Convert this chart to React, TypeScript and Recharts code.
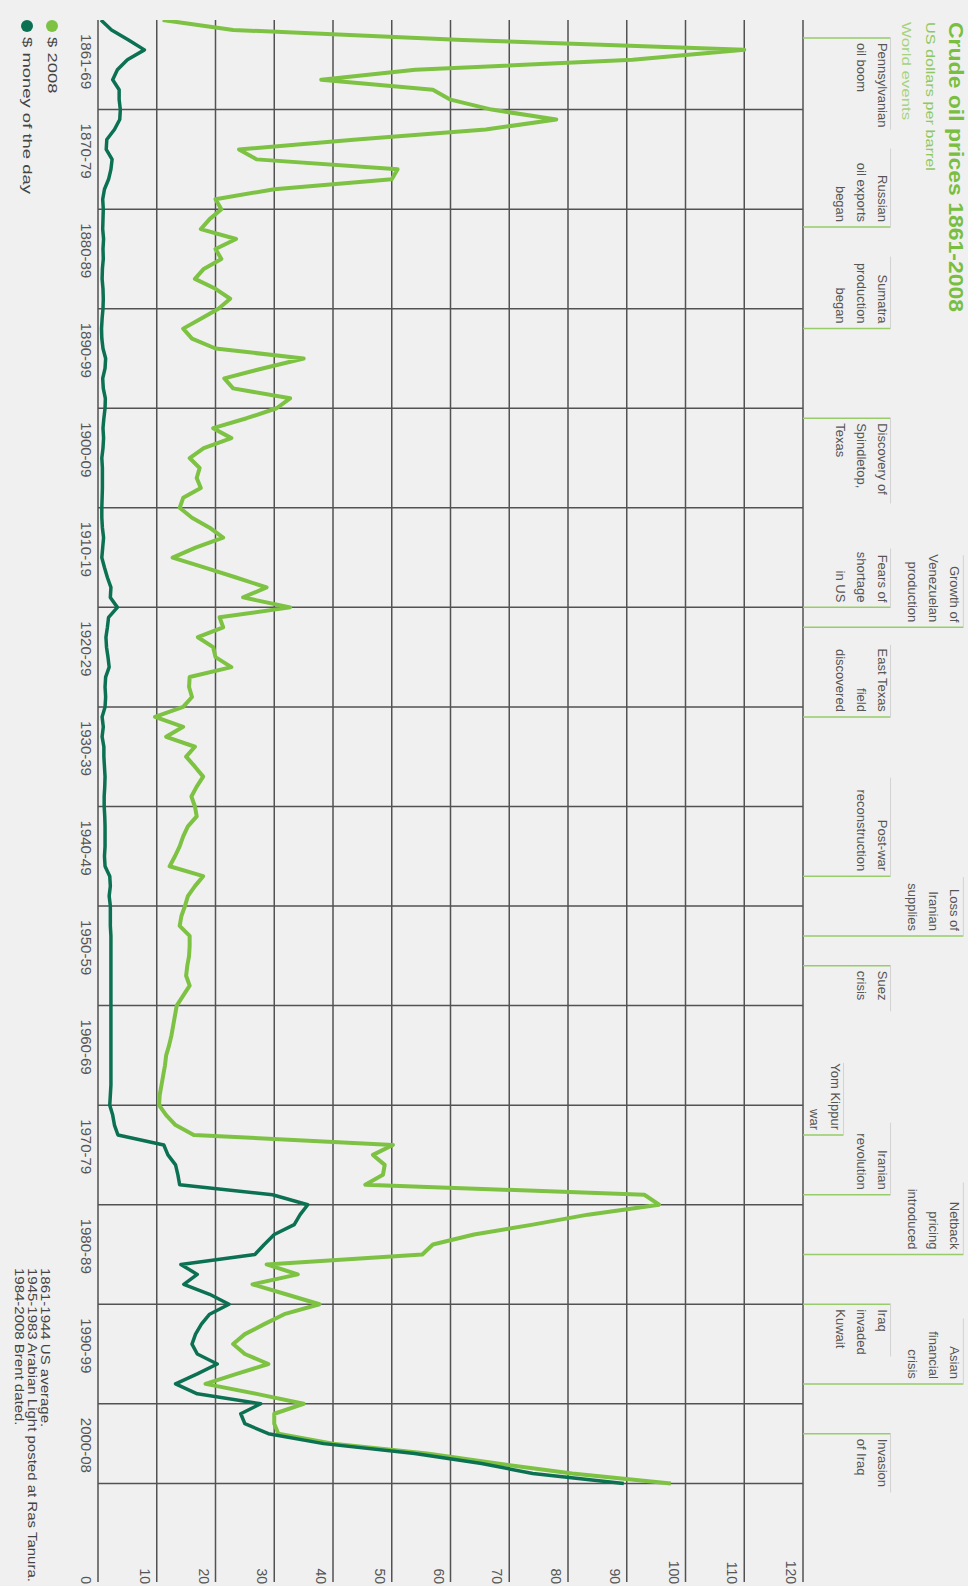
import React from "react";
import { LineChart, Line, XAxis, YAxis, CartesianGrid, ReferenceLine } from "recharts";

const FIRST_YEAR = 1861;

// US dollars per barrel, in 2008 dollars (1861..2008)
const usd2008: number[] = [
  11, 23, 62, 110, 91, 54, 38, 57, 60,
  67, 78, 66, 44, 24, 27, 51, 50, 30, 20,
  21, 19, 17.5, 23.5, 20, 21, 18, 16.5, 20, 22.5,
  20.5, 17.5, 14.5, 16, 20, 35, 28, 21.5, 23, 32.7,
  30.4, 25.3, 19.6, 22.7, 18, 15.6, 17.3, 16.8, 17.5, 14.5,
  13.9, 16, 19, 21.3, 16.6, 12.7, 18.2, 23.5, 28.7, 24.7,
  32.7, 20.7, 21.3, 17, 19.6, 20, 22.7, 15.6, 15.5, 16,
  14.5, 9.7, 14.5, 11.6, 16.5, 15, 16.5, 17.9, 16.8, 15.9,
  16.5, 16.8, 15.3, 14.5, 13.9, 13.1, 12.2, 17.9, 16.5, 15.3,
  14.8, 14.2, 13.9, 15.6, 15.6, 15.5, 15.2, 15, 15.6, 14.5,
  13.4, 13.1, 12.8, 12.5, 12.1, 11.6, 11.4, 11.1, 10.8, 10.5,
  10.4, 11.6, 13.2, 16.3, 50.2, 46.8, 48.8, 48.5, 45.5, 93,
  95.5, 83.4, 74, 64, 57, 55.2, 28.7, 34, 26.3, 32,
  37.7, 31.7, 28.3, 25, 23, 25, 29, 23.6, 18.3, 27,
  35, 30, 30, 30.7, 40, 56, 68, 80.7, 97.5,
];

// US dollars per barrel, money of the day (1861..2008)
const usdMoneyOfDay: number[] = [
  0.5, 2.3, 5.2, 7.9, 5, 3.3, 2.5, 3.6, 3.6,
  3.8, 3.7, 2.8, 1.5, 1.4, 2.4, 2.2, 1.8, 1.1, 0.8,
  0.9, 0.85, 0.8, 0.95, 0.85, 0.9, 0.75, 0.7, 0.85, 0.9,
  0.85, 0.7, 0.6, 0.65, 0.85, 1.3, 1.2, 0.8, 0.9, 1.25,
  1.2, 1, 0.85, 0.95, 0.85, 0.65, 0.75, 0.75, 0.75, 0.7,
  0.65, 0.65, 0.75, 0.95, 0.8, 0.65, 1.1, 1.6, 2.2, 2.1,
  3.3, 1.8, 1.6, 1.35, 1.45, 1.7, 1.9, 1.3, 1.2, 1.3,
  1.2, 0.7, 0.9, 0.7, 1, 1, 1.1, 1.2, 1.15, 1.05,
  1.05, 1.15, 1.2, 1.2, 1.2, 1.1, 1.2, 2, 2.1, 1.9,
  2.1, 2.1, 2.1, 2.2, 2.2, 2.2, 2.2, 2.2, 2.2, 2.2,
  2.2, 2.2, 2.2, 2.2, 2.2, 2.2, 2.2, 2.2, 2.2, 2.1,
  2, 2.5, 2.8, 3.4, 11.2, 11.9, 13.2, 13.6, 13.9, 29.7,
  35.7, 34.4, 33.4, 30, 28.3, 26.7, 14.1, 16.9, 14.6, 19,
  22.3, 19, 17.6, 16.6, 16, 16.9, 20.3, 16.9, 13.2, 16.9,
  27.7, 24.3, 25, 29, 38.4, 53.9, 65.3, 74, 89.5,
];

const decadeStarts = [1861, 1870, 1880, 1890, 1900, 1910, 1920, 1930, 1940, 1950, 1960, 1970, 1980, 1990, 2000];
const decadeLabels = ["1861-69", "1870-79", "1880-89", "1890-99", "1900-09", "1910-19", "1920-29", "1930-39", "1940-49", "1950-59", "1960-69", "1970-79", "1980-89", "1990-99", "2000-08"];
const decadeLines = [1870, 1880, 1890, 1900, 1910, 1920, 1930, 1940, 1950, 1960, 1970, 1980, 1990, 2000, 2008];
const valueTicks = [0, 10, 20, 30, 40, 50, 60, 70, 80, 90, 100, 110, 120];

const eventYears = [1862.8, 1881.8, 1892, 1901, 1920, 1922, 1931, 1947, 1953, 1956, 1973, 1979, 1985, 1990, 1998, 2003];
const eventTexts: string[][] = [
  ["Pennsylvanian", "oil boom"],
  ["Russian", "oil exports", "began"],
  ["Sumatra", "production", "began"],
  ["Discovery of", "Spindletop,", "Texas"],
  ["Fears of", "shortage", "in US"],
  ["Growth of", "Venezuelan", "production"],
  ["East Texas", "field", "discovered"],
  ["Post-war", "reconstruction"],
  ["Loss of", "Iranian", "supplies"],
  ["Suez", "crisis"],
  ["Yom Kippur", "war"],
  ["Iranian", "revolution"],
  ["Netback", "pricing", "introduced"],
  ["Iraq", "invaded", "Kuwait"],
  ["Asian", "financial", "crisis"],
  ["Invasion", "of Iraq"],
];
const eventLevels = [134.9, 134.9, 134.9, 134.9, 134.9, 147.3, 134.9, 134.9, 147.3, 134.9, 126.9, 134.9, 147.3, 134.9, 147.3, 134.9];
const eventAlign = ["after", "before", "before", "after", "before", "before", "before", "before", "before", "after", "before", "before", "before", "after", "before", "after"];

const footnotes = ["1861-1944 US average.", "1945-1983 Arabian Light posted at Ras Tanura.", "1984-2008 Brent dated."];

const LIGHT = "#7dc243";
const DARK = "#0c7152";
const GRID = "#525252";
const FONT = "'Liberation Sans', Arial, Helvetica, sans-serif";

const table = usd2008.map((v, i) => ({ year: FIRST_YEAR + i, real: v, nominal: usdMoneyOfDay[i] }));

const DecadeTick = (props: any) => {
  const { x, y, payload } = props;
  const i = decadeStarts.indexOf(payload.value);
  return (
    <text x={x + 14} y={y + 9} textAnchor="start" fontSize={15} fill="#555" fontFamily={FONT}>
      {decadeLabels[i]}
    </text>
  );
};

const ValueTick = (props: any) => {
  const { x, y, payload } = props;
  return (
    <text x={x - 6} y={y + 17} textAnchor="end" fontSize={14} fill="#555" fontFamily={FONT}>
      {payload.value}
    </text>
  );
};

const makeEventLabel = (i: number) => (props: any) => {
  const vb = props.viewBox || {};
  const lx = vb.x;
  const top = vb.y;
  const after = eventAlign[i] === "after";
  const tx = after ? lx + 5 : lx - 5;
  const longest = Math.max(...eventTexts[i].map((t) => t.length));
  const w = longest * 6.6 + 6;
  return (
    <g>
      <line x1={lx} y1={top} x2={after ? lx + w : lx - w} y2={top} stroke="#d2d2d2" strokeWidth={1} />
      {eventTexts[i].map((t, j) => (
        <text
          key={j}
          x={tx}
          y={top + 13 + 21 * j}
          textAnchor={after ? "start" : "end"}
          fontSize={13}
          fill="#555"
          fontFamily={FONT}
        >
          {t}
        </text>
      ))}
    </g>
  );
};

export default function App() {
  return (
    <div
      style={{
        position: "absolute",
        left: 0,
        top: 0,
        width: 968,
        height: 1586,
        overflow: "hidden",
        background: "#f0f0f0",
        fontFamily: FONT,
      }}
    >
      <div
        style={{
          position: "absolute",
          left: 0,
          top: 0,
          width: 1586,
          height: 968,
          transformOrigin: "0 0",
          transform: "translate(968px, 0px) rotate(90deg)",
        }}
      >
        <LineChart width={1586} height={968} data={table} margin={{ top: 165, right: 3, bottom: 97, left: 20 }}>
          <CartesianGrid horizontal={true} vertical={false} stroke={GRID} strokeWidth={1.5} />
          <XAxis
            type="number"
            dataKey="year"
            domain={[1861, 2017.9]}
            allowDataOverflow
            ticks={decadeStarts}
            interval={0}
            height={1}
            axisLine={false}
            tickLine={false}
            tick={<DecadeTick />}
          />
          <YAxis
            orientation="right"
            domain={[0, 120]}
            ticks={valueTicks}
            interval={0}
            width={1}
            axisLine={false}
            tickLine={false}
            tick={<ValueTick />}
          />
          {decadeLines.map((d) => (
            <ReferenceLine key={"d" + d} x={d} stroke={GRID} strokeWidth={1.5} ifOverflow="visible" />
          ))}
          {eventYears.map((yr, i) => (
            <ReferenceLine
              key={"e" + i}
              segment={[
                { x: yr, y: 120 },
                { x: yr, y: eventLevels[i] },
              ]}
              stroke="#97cc68"
              strokeWidth={1.5}
              ifOverflow="visible"
              label={makeEventLabel(i)}
            />
          ))}
          <Line
            dataKey="real"
            type="linear"
            stroke={LIGHT}
            strokeWidth={4}
            dot={false}
            isAnimationActive={false}
            strokeLinejoin="round"
          />
          <Line
            dataKey="nominal"
            type="linear"
            stroke={DARK}
            strokeWidth={3.5}
            dot={false}
            isAnimationActive={false}
            strokeLinejoin="round"
          />
        </LineChart>
        <svg
          width={1586}
          height={968}
          style={{ position: "absolute", left: 0, top: 0, pointerEvents: "none" }}
        >
          <text transform="translate(22,19) scale(1.15,1)" fontSize={20} fontWeight="bold" fill="#79be3f" fontFamily={FONT}>
            Crude oil prices 1861-2008
          </text>
          <text transform="translate(22,42.5) scale(1.25,1)" fontSize={13} fill="#8ec960" fontFamily={FONT}>
            US dollars per barrel
          </text>
          <text transform="translate(22,66.5) scale(1.3,1)" fontSize={13} fill="#a6d37f" fontFamily={FONT}>
            World events
          </text>
          <circle cx={26} cy={916} r={6} fill={LIGHT} />
          <text transform="translate(37,920.5) scale(1.42,1)" fontSize={13} fill="#444" fontFamily={FONT}>
            $ 2008
          </text>
          <circle cx={26} cy={941} r={6} fill={DARK} />
          <text transform="translate(37,945.5) scale(1.42,1)" fontSize={13} fill="#444" fontFamily={FONT}>
            $ money of the day
          </text>
          {footnotes.map((t, i) => (
            <text
              key={i}
              transform={`translate(1268,${927.5 + 13 * i}) scale(1.2,1)`}
              fontSize={12.5}
              fill="#444"
              fontFamily={FONT}
            >
              {t}
            </text>
          ))}
        </svg>
      </div>
    </div>
  );
}
